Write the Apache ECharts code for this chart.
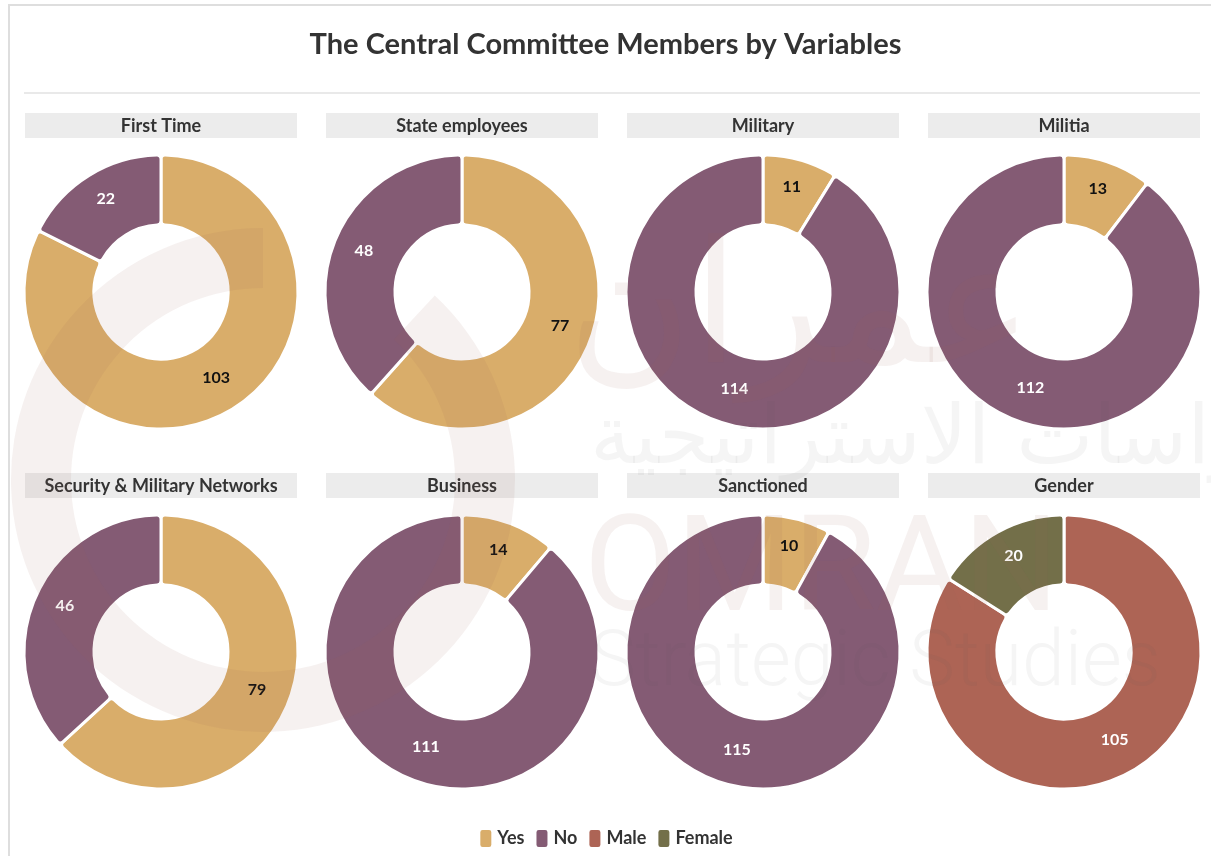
<!DOCTYPE html>
<html>
<head>
<meta charset="utf-8">
<title>The Central Committee Members by Variables</title>
<script src="https://cdn.jsdelivr.net/npm/echarts@6/dist/echarts.min.js"></script>
<style>
  html, body { margin: 0; padding: 0; background: #fff; }
  #chart { width: 1211px; height: 856px; }
</style>
</head>
<body>
<div id="chart"></div>
<script>
// Panel titles, in reading order (left to right, top to bottom)
const variables = [
  'First Time', 'State employees', 'Military', 'Militia',
  'Security & Military Networks', 'Business', 'Sanctioned', 'Gender'
];
// Category names of each panel's two slices
const sliceNames = [
  ['Yes', 'No'], ['Yes', 'No'], ['Yes', 'No'], ['Yes', 'No'],
  ['Yes', 'No'], ['Yes', 'No'], ['Yes', 'No'], ['Male', 'Female']
];
// Member counts per panel (first slice, second slice)
const firstValues  = [103, 77, 11, 13, 79, 14, 10, 105];
const secondValues = [22, 48, 114, 112, 46, 111, 115, 20];
// Legend entries
const legendNames = ['Yes', 'No', 'Male', 'Female'];

const FONT = 'Lato, "Source Sans Pro", "Open Sans", sans-serif';
const palette = {
  Yes:    { fill: '#D9AD6A', text: '#111111' },
  No:     { fill: '#845B74', text: '#ffffff' },
  Male:   { fill: '#AD6455', text: '#ffffff' },
  Female: { fill: '#736F49', text: '#ffffff' }
};

const colX = [161, 462, 763, 1064];
const rowY = [292, 652];
const headerTop = [113, 473];

const series = [];
const graphics = [];

// Outer frame and rule under the title
graphics.push({
  type: 'rect', shape: { x: 9, y: 5, width: 1210, height: 870 },
  style: { fill: 'none', stroke: '#dedede', lineWidth: 2 }, z: 0, silent: true
});
graphics.push({
  type: 'line', shape: { x1: 24, y1: 93, x2: 1200, y2: 93 },
  style: { stroke: '#e2e2e2', lineWidth: 1.5 }, z: 0, silent: true
});

variables.forEach((name, i) => {
  const col = i % 4, row = Math.floor(i / 4);
  const cx = colX[col], cy = rowY[row];

  // Grey header bar with the panel title
  graphics.push({
    type: 'rect',
    shape: { x: cx - 136, y: headerTop[row], width: 272, height: 25 },
    style: { fill: '#ececec' }, z: 1, silent: true
  });
  graphics.push({
    type: 'text', x: cx, y: headerTop[row] + 13,
    style: {
      text: name, fill: '#333', font: 'bold 18px ' + FONT,
      align: 'center', verticalAlign: 'middle'
    }, z: 2, silent: true
  });

  const data = [firstValues[i], secondValues[i]].map((v, k) => {
    const n = sliceNames[i][k];
    return {
      name: n, value: v,
      itemStyle: { color: palette[n].fill },
      label: { color: palette[n].text }
    };
  });

  series.push({
    type: 'pie',
    name: name,
    center: [cx, cy],
    radius: [67, 137],
    startAngle: 90,
    clockwise: true,
    avoidLabelOverlap: false,
    silent: true,
    itemStyle: { borderColor: '#fff', borderWidth: 3, borderRadius: 4 },
    label: {
      show: true, position: 'inside', formatter: '{c}',
      fontFamily: FONT, fontWeight: 'bold', fontSize: 16, offset: [0, -4]
    },
    labelLine: { show: false },
    emphasis: { disabled: true },
    data: data
  });
});

// Faint publisher watermark drawn over the panels
const wmPink = 'rgba(160,95,85,0.09)';
const wmGrey = 'rgba(90,90,90,0.06)';
graphics.push({
  type: 'sector',
  shape: { cx: 263, cy: 480, r: 252, r0: 192,
           startAngle: -Math.PI / 2 + 0.75, endAngle: Math.PI * 1.5, clockwise: true },
  style: { fill: wmPink }, z: 20, silent: true
});
graphics.push({
  type: 'text', x: 800, y: 318,
  style: { text: 'عمران', fill: wmPink, font: '170px "DejaVu Sans", sans-serif',
           align: 'center', verticalAlign: 'middle' },
  z: 20, silent: true
});
graphics.push({
  type: 'text', x: 590, y: 442,
  style: { text: 'للدراسات الاستراتيجية', fill: wmGrey, font: '82px "DejaVu Sans", sans-serif',
           align: 'left', verticalAlign: 'middle' },
  z: 20, silent: true
});
graphics.push({
  type: 'text', x: 584, y: 576,
  style: { text: 'OMRAN', fill: wmPink, font: '400 134px Roboto, sans-serif',
           align: 'left', verticalAlign: 'middle' },
  z: 20, silent: true
});
graphics.push({
  type: 'text', x: 590, y: 666,
  style: { text: 'Strategic Studies', fill: wmGrey, font: '300 77px Roboto, sans-serif',
           align: 'left', verticalAlign: 'middle' },
  z: 20, silent: true
});

const chart = echarts.init(document.getElementById('chart'), null, { renderer: 'canvas' });
chart.setOption({
  animation: false,
  backgroundColor: '#ffffff',
  title: {
    text: 'The Central Committee Members by Variables',
    left: 'center', top: 25,
    textStyle: { fontFamily: FONT, fontWeight: 'bold', fontSize: 29, color: '#333' }
  },
  legend: {
    data: legendNames,
    left: 'center', top: 823,
    icon: 'roundRect', itemWidth: 13, itemHeight: 19, itemGap: 10,
    selectedMode: false,
    textStyle: { fontFamily: FONT, fontWeight: 'bold', fontSize: 18, color: '#333' }
  },
  graphic: graphics,
  series: series
});
</script>
</body>
</html>
